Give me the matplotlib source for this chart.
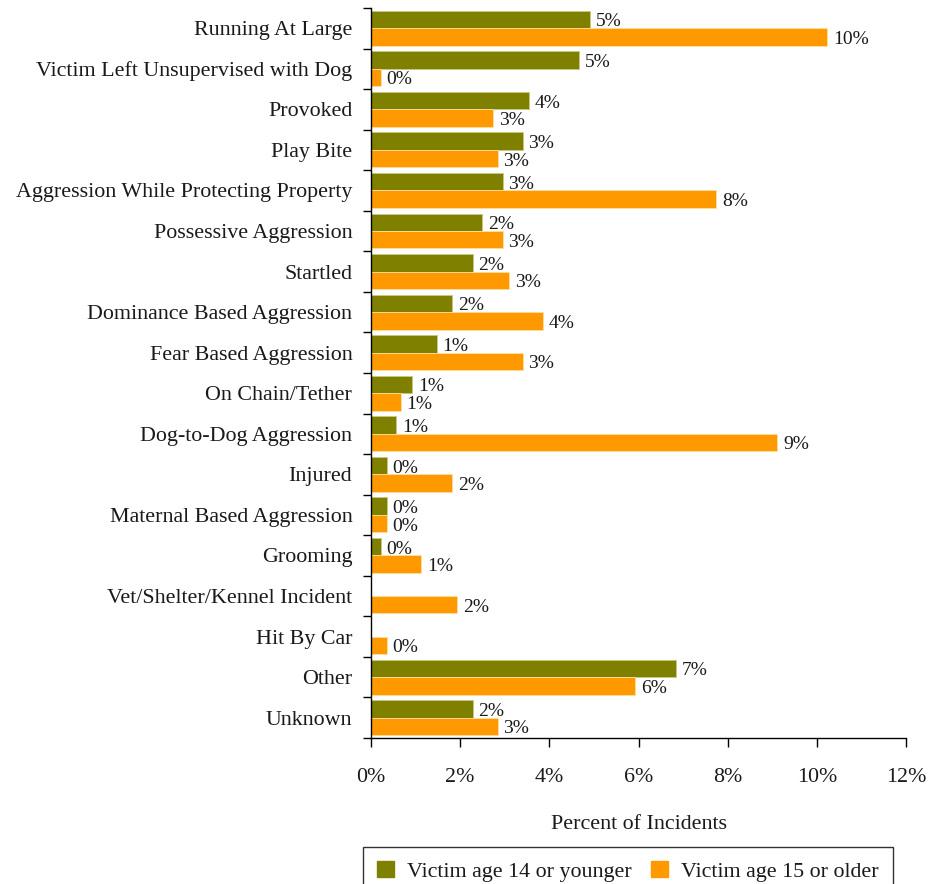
import numpy as np
import matplotlib
matplotlib.use("Agg")
import matplotlib.pyplot as plt

plt.rcParams['font.family'] = ['Liberation Serif', 'DejaVu Serif']

categories = [
    "Running At Large", "Victim Left Unsupervised with Dog", "Provoked",
    "Play Bite", "Aggression While Protecting Property", "Possessive Aggression",
    "Startled", "Dominance Based Aggression", "Fear Based Aggression",
    "On Chain/Tether", "Dog-to-Dog Aggression", "Injured",
    "Maternal Based Aggression", "Grooming", "Vet/Shelter/Kennel Incident",
    "Hit By Car", "Other", "Unknown",
]
# percent of incidents, by victim age group (None = no bar)
young = [4.91, 4.67, 3.54, 3.40, 2.95, 2.49, 2.28, 1.82, 1.47,
         0.92, 0.56, 0.35, 0.35, 0.22, None, None, 6.84, 2.28]
older = [10.23, 0.22, 2.74, 2.84, 7.74, 2.95, 3.09, 3.86, 3.40,
         0.67, 9.11, 1.82, 0.35, 1.13, 1.93, 0.35, 5.92, 2.84]
series_names = ["Victim age 14 or younger", "Victim age 15 or older"]
colors = ["#808000", "#FF9900"]
xticks = [0, 2, 4, 6, 8, 10, 12]

txt = "#1a1a1a"
fs = 15.8

fig = plt.figure(figsize=(9.35, 8.84), dpi=100)
ax = fig.add_axes([0.3968, 0.1652, 0.969 - 0.3968, 0.991 - 0.1652])

n = len(categories)
pos = np.arange(n)
h = 0.43

handles = []
for k, (vals, col, name) in enumerate(zip([young, older], colors, series_names)):
    ys = pos - h / 2 + k * h
    for y, v in zip(ys, vals):
        if v is None:
            continue
        ax.barh(y, v, height=h, color=col, edgecolor="#ffe0a0" if k else "#c8c880",
                linewidth=0.6)
        ax.text(v + 0.13, y + 0.06, f"{v:.0f}%", va="center", ha="left",
                fontsize=14, color=txt)
    handles.append(plt.Rectangle((0, 0), 1, 1, color=col))

ax.set_ylim(n - 0.5, -0.5)
ax.set_xlim(0, 12)
ax.set_xticks(xticks)
ax.set_xticklabels([f"{t}%" for t in xticks], fontsize=fs, color=txt)
ax.set_yticks(pos)
ax.set_yticklabels(categories, fontsize=fs, color=txt)
ax.set_yticks(np.arange(n + 1) - 0.5, minor=True)
ax.tick_params(axis="y", which="major", length=0, pad=13.5)
ax.tick_params(axis="y", which="minor", length=5.5, width=1, direction="out")
ax.tick_params(axis="x", length=6.5, width=1, direction="out", pad=15)

for s in ["top", "right"]:
    ax.spines[s].set_visible(False)
for s in ["left", "bottom"]:
    ax.spines[s].set_linewidth(1)
    ax.spines[s].set_color("black")

ax.set_xlabel("Percent of Incidents", fontsize=fs, color=txt, labelpad=20.5)

leg = fig.legend(handles, series_names, loc="upper left", mode="expand",
                 bbox_to_anchor=(363 / 935, 0, 530 / 935, 1 - 847 / 884), ncol=2,
                 fontsize=fs, frameon=True, fancybox=False, handlelength=0.75,
                 handleheight=0.75, borderpad=0.65, borderaxespad=0,
                 handletextpad=0.6)
leg.get_frame().set_edgecolor("black")
leg.get_frame().set_linewidth(1)
for t in leg.get_texts():
    t.set_color(txt)

fig.savefig("out.png", dpi=100)
